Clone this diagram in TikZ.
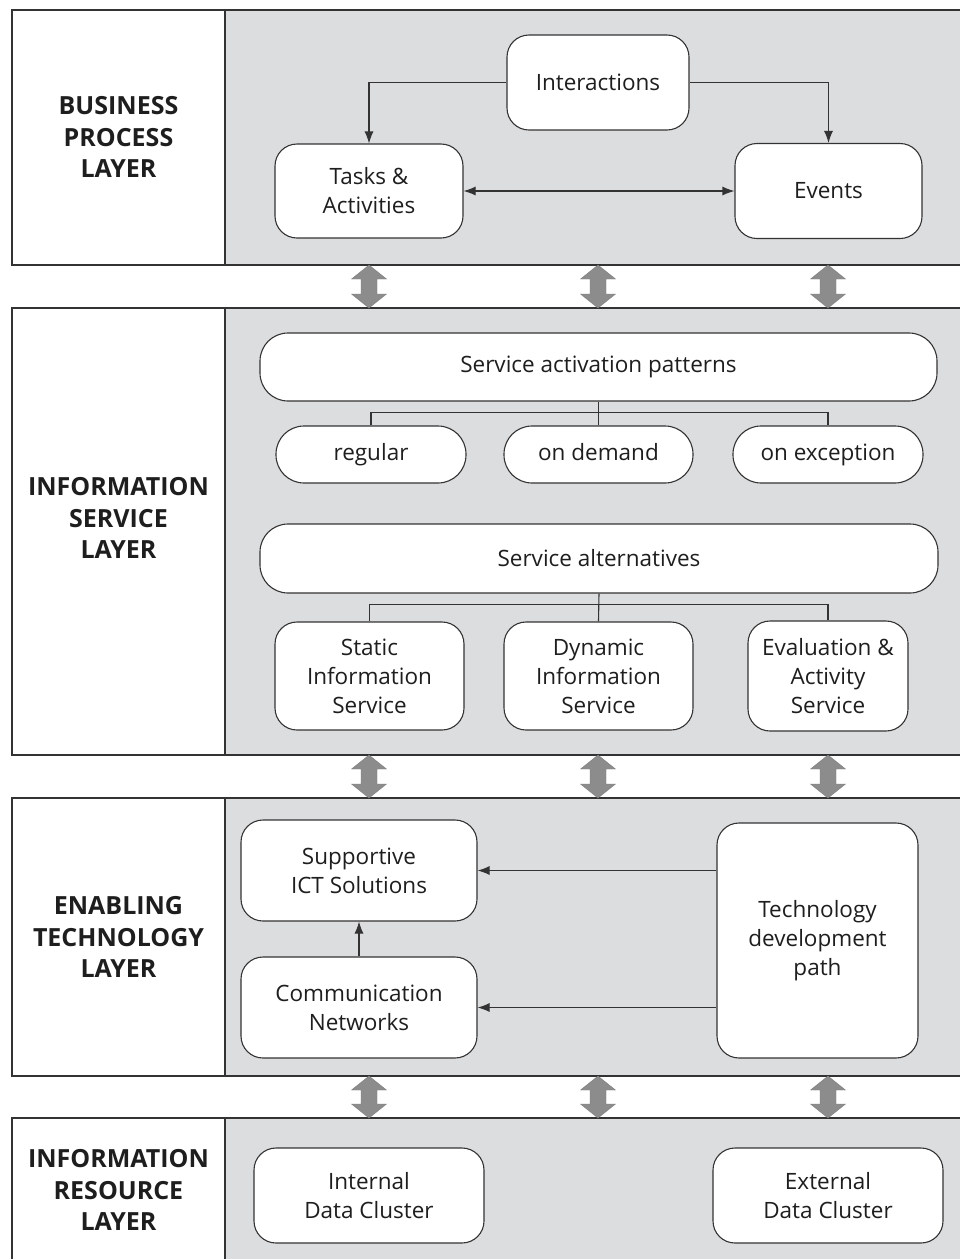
\documentclass[tikz,border=0pt]{standalone}
\usepackage{fontspec}
\setmainfont{Open Sans}
\usetikzlibrary{arrows.meta,calc}

\definecolor{panel}{HTML}{DCDDDF}
\definecolor{edge}{HTML}{333333}
\definecolor{blockarrow}{HTML}{8C8C8C}
\definecolor{ink}{HTML}{1E1E1E}

\tikzset{
  box/.style={draw=edge, line width=1.1pt, fill=white, rounded corners=22pt,
    align=center, inner sep=0pt, text=ink, font=\fontsize{22.5}{29}\selectfont},
  pill/.style={box, rounded corners=28pt, text height=16pt, text depth=5pt},
  link/.style={draw=edge, line width=1.1pt},
  arr/.style={link, -{Latex[length=12pt,width=9pt]}},
  biarr/.style={link, {Latex[length=12pt,width=9pt]}-{Latex[length=12pt,width=9pt]}},
  layertitle/.style={font=\fontsize{25}{31.5}\selectfont\bfseries, align=center, text=ink},
  panelframe/.style={draw=edge, line width=1.3pt},
  blockarr/.style={fill=blockarrow, draw=blockarrow!90!black, line width=0.4pt},
}

% layer panel: white title strip on the left, grey body on the right
\newcommand\layerpanel[2]{%
  \fill[panel] (225,#1) rectangle (975,#2);
  \draw[panelframe] (12,#1) rectangle (975,#2);
  \draw[panelframe] (225,#1) -- (225,#2);
}
% grey two-headed block arrow between two layers
\newcommand\updown[3]{%
  \path[blockarr] (#1,#2) -- (#1+17.5,#2+14) -- (#1+8,#2+14) -- (#1+8,#3-14)
    -- (#1+17.5,#3-14) -- (#1,#3) -- (#1-17.5,#3-14) -- (#1-8,#3-14)
    -- (#1-8,#2+14) -- (#1-17.5,#2+14) -- cycle;
}

\begin{document}
\begin{tikzpicture}[x=1pt,y=-1pt]
\useasboundingbox (0,0) rectangle (960,1259);
\clip (0,0) rectangle (960,1259);
\fill[white] (0,0) rectangle (960,1259);

% ---------- layer panels ----------
\layerpanel{10}{265}
\layerpanel{308}{755}
\layerpanel{798}{1076}
\layerpanel{1118}{1300}

\node[layertitle] (L1) at (118.5,137) {BUSINESS\\PROCESS\\LAYER};
\node[layertitle] (L2) at (118.5,518) {INFORMATION\\SERVICE\\LAYER};
\node[layertitle] (L3) at (118.5,937) {ENABLING\\TECHNOLOGY\\LAYER};
\node[layertitle] (L4) at (118.5,1190) {INFORMATION\\RESOURCE\\LAYER};

% ---------- links between layers ----------
\foreach \xx in {369,598,828}{
  \updown{\xx}{265}{308}
  \updown{\xx}{755}{798}
  \updown{\xx}{1076}{1118}
}

% ---------- business process layer ----------
\node[box, minimum width=182pt, minimum height=95pt] (inter) at (598,82.5) {Interactions};
\node[box, minimum width=188pt, minimum height=94pt] (tasks) at (369,191) {Tasks \&\\Activities};
\node[box, minimum width=187pt, minimum height=95pt] (events) at (828.5,191) {Events};

\draw[arr] (inter.west) -| (tasks.north);
\draw[arr] (inter.east) -| (events.north);
\draw[biarr] (tasks.east) -- (events.west);

% ---------- information service layer ----------
\node[box, rounded corners=28pt, minimum width=677pt, minimum height=68pt] (sap) at (598.5,367) {Service activation patterns};
\node[pill, minimum width=190pt, minimum height=57pt] (regular) at (371,454.5) {regular};
\node[pill, minimum width=189pt, minimum height=57pt] (ondemand) at (598.5,454.5) {on demand};
\node[pill, minimum width=190pt, minimum height=57pt] (onexc) at (828,454.5) {on exception};

\coordinate (j1) at ($(sap.south)!0.45!(ondemand.north)$);
\draw[link] (sap.south) -- (ondemand.north);
\draw[link] (regular.north) -- (regular.north |- j1) -| (onexc.north);

\node[box, rounded corners=28pt, minimum width=678pt, minimum height=69pt] (salt) at (599,558.5) {Service alternatives};
\node[box, minimum width=189pt, minimum height=108pt] (static) at (369.5,676) {Static\\Information\\Service};
\node[box, minimum width=189pt, minimum height=108pt] (dynamic) at (598.5,676) {Dynamic\\Information\\Service};
\node[box, minimum width=160pt, minimum height=110pt] (evalact) at (828,676) {Evaluation \&\\Activity\\Service};

\coordinate (j2) at ($(salt.south)!0.4!(dynamic.north)$);
\draw[link] (salt.south) -- (dynamic.north);
\draw[link] (static.north) -- (static.north |- j2) -| (evalact.north);

% ---------- enabling technology layer ----------
\node[box, minimum width=236pt, minimum height=101pt] (ict) at (359,870.5) {Supportive\\ICT Solutions};
\node[box, minimum width=236pt, minimum height=101pt] (comm) at (359,1007.5) {Communication\\Networks};
\node[box, minimum width=201pt, minimum height=235pt] (tech) at (817.5,940.5) {Technology\\development\\path};

\draw[arr] (tech.west |- ict.east) -- (ict.east);
\draw[arr] (tech.west |- comm.east) -- (comm.east);
\draw[arr] (comm.north) -- (ict.south);

% ---------- information resource layer ----------
\node[box, minimum width=230pt, minimum height=95pt] (internal) at (369,1195.5) {Internal\\Data Cluster};
\node[box, minimum width=230pt, minimum height=95pt] (external) at (828,1195.5) {External\\Data Cluster};

\end{tikzpicture}
\end{document}
